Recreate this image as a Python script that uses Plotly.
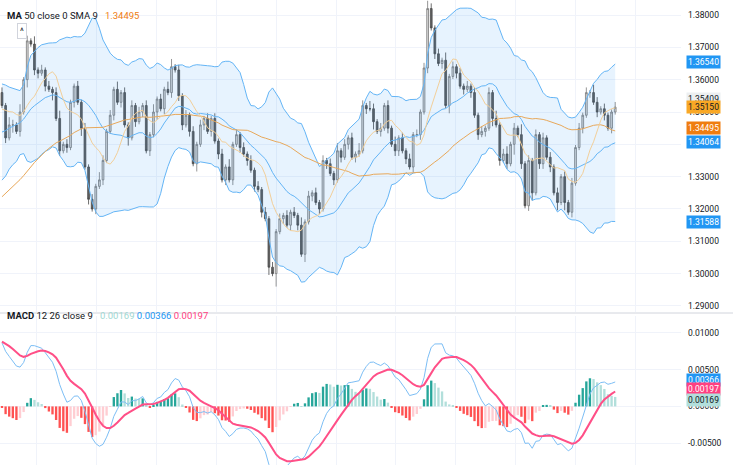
import plotly.graph_objects as go
import pandas as pd

# warm-up closes (hidden, before the visible window)
warmup_closes = [1.288,1.291,1.289,1.293,1.296,1.294,1.298,1.301,1.299,1.303,
                 1.305,1.302,1.306,1.309,1.307,1.311,1.313,1.310,1.314,1.317,
                 1.315,1.319,1.321,1.318,1.322,1.325,1.323,1.327,1.329,1.326,
                 1.330,1.333,1.331,1.335,1.337,1.334,1.338,1.341,1.339,1.343,
                 1.345,1.342,1.346,1.349,1.347,1.351,1.353,1.350,1.354,1.356]

closes = [1.352,1.342,1.346,1.346,1.344,1.350,1.360,1.372,1.371,1.363,
          1.362,1.363,1.358,1.357,1.356,1.348,1.338,1.340,1.339,1.353,
          1.358,1.353,1.345,1.333,1.323,1.320,1.327,1.329,1.335,1.344,
          1.349,1.357,1.353,1.356,1.346,1.342,1.352,1.347,1.350,1.352,
          1.338,1.343,1.350,1.354,1.351,1.357,1.356,1.364,1.363,1.355,
          1.346,1.349,1.344,1.334,1.340,1.346,1.348,1.344,1.348,1.341,
          1.337,1.329,1.333,1.329,1.340,1.343,1.339,1.337,1.335,1.332,
          1.327,1.326,1.319,1.317,1.302,1.300,1.313,1.317,1.318,1.315,
          1.319,1.318,1.315,1.306,1.316,1.324,1.325,1.322,1.320,1.335,
          1.334,1.331,1.329,1.338,1.336,1.340,1.342,1.336,1.337,1.338,
          1.352,1.351,1.351,1.347,1.344,1.345,1.352,1.345,1.340,1.338,
          1.342,1.338,1.3355,1.333,1.343,1.343,1.350,1.3636,1.382,1.376,
          1.368,1.365,1.366,1.352,1.361,1.364,1.362,1.358,1.357,1.358,
          1.356,1.349,1.343,1.344,1.345,1.356,1.348,1.346,1.335,1.337,
          1.334,1.340,1.345,1.343,1.334,1.321,1.335,1.325,1.343,1.334,
          1.342,1.336,1.333,1.325,1.322,1.330,1.322,1.319,1.328,1.339,
          1.345,1.349,1.356,1.356,1.353,1.350,1.351,1.349,1.345,1.350,
          1.3515]

# wick lengths in units of 0.0008
wick_up = [int(c) for c in
           "2132131213" "1212123121" "1212121321" "2131212121" "2131213312"
           "1212121212" "1213121212" "1212121212" "1213121212" "1213121213"
           "2132121213" "1212121232" "1213121212" "1212121312" "3121412121"
           "2121212121" "2121321211" "2"]
wick_dn = [int(c) for c in
           "1213121312" "2121312121" "2131212121" "1212131212" "1213121212"
           "2121312121" "2121212121" "2121315121" "2121312121" "2121212121"
           "1213121212" "2121212121" "2121312121" "2121213121" "2141212312"
           "2121313121" "1212121212" "1"]

price_ticks = [1.29, 1.30, 1.31, 1.32, 1.33, 1.34, 1.35, 1.36, 1.37, 1.38]
macd_ticks = [-0.005, 0.0, 0.005, 0.01]

price_tags = [(1.36540, "#2196f3", "white", 0), (1.35409, "#eceff1", "#131722", 0),
              (1.35150, "#f9a825", "#131722", 0), (1.34495, "#ef7d10", "white", 0),
              (1.34064, "#2196f3", "white", 0), (1.31588, "#2196f3", "white", 0)]
macd_tags = [(0.00366, "#2196f3", "white", 0), (0.00197, "#ff4081", "white", 3),
             (0.00169, "#b2dfdb", "#131722", -6)]

allc = warmup_closes + closes
npre = len(warmup_closes)
n = len(allc)
s = pd.Series(allc)
opens = [allc[0]] + allc[:-1]
highs = [max(o, c) for o, c in zip(opens, allc)]
lows = [min(o, c) for o, c in zip(opens, allc)]
for i in range(npre, n):
    highs[i] += 0.0008 * wick_up[i - npre]
    lows[i] -= 0.0008 * wick_dn[i - npre]

bb_mid = s.rolling(20, min_periods=1).mean()
bb_sd = s.rolling(20, min_periods=1).std(ddof=0)
bb_up = bb_mid + 2 * bb_sd
bb_lo = bb_mid - 2 * bb_sd
ma50 = s.rolling(50, min_periods=1).mean()
sma9 = s.rolling(9, min_periods=1).mean()
macd = s.ewm(span=12, adjust=False).mean() - s.ewm(span=26, adjust=False).mean()
sig = macd.ewm(span=9, adjust=False).mean()
hist = macd - sig
hcol = []
for i in range(n):
    prev = hist[i - 1] if i > 0 else 0
    if hist[i] >= 0:
        hcol.append("#26a69a" if hist[i] >= prev else "#b2dfdb")
    else:
        hcol.append("#ff5252" if hist[i] < prev else "#ffcdd2")

xs = list(range(n))
vis = slice(npre, n)
xv = xs[vis]
sp = 615 / (len(closes) - 1)
xr = [npre - 2 / sp, npre + 681 / sp]

blue = "#64b5f6"
fig = go.Figure()
fig.add_trace(go.Scatter(x=xv, y=bb_up[vis], line=dict(color=blue, width=1), yaxis="y"))
fig.add_trace(go.Scatter(x=xv, y=bb_lo[vis], line=dict(color=blue, width=1), fill="tonexty",
                         fillcolor="rgba(33,150,243,0.11)", yaxis="y"))
fig.add_trace(go.Scatter(x=xv, y=bb_mid[vis], line=dict(color=blue, width=1), yaxis="y"))
fig.add_trace(go.Scatter(x=xv, y=ma50[vis], line=dict(color="#e8a85a", width=1), yaxis="y"))
fig.add_trace(go.Scatter(x=xv, y=sma9[vis], line=dict(color="#f2cf9a", width=1), yaxis="y"))
fig.add_trace(go.Candlestick(x=xv, open=opens[vis], high=highs[vis], low=lows[vis], close=allc[vis],
                             increasing=dict(line=dict(color="#7a7a7a", width=0.8), fillcolor="#dcdcdc"),
                             decreasing=dict(line=dict(color="#4a4a4a", width=0.8), fillcolor="#606060"),
                             whiskerwidth=0, yaxis="y"))
fig.add_trace(go.Bar(x=xv, y=hist[vis], marker=dict(color=hcol[vis], line=dict(width=0)), yaxis="y2",
                     xaxis="x2"))
fig.add_trace(go.Scatter(x=xv, y=macd[vis], line=dict(color="#7cbef5", width=1), yaxis="y2", xaxis="x2"))
fig.add_trace(go.Scatter(x=xv, y=sig[vis], line=dict(color="#ff4f87", width=2), yaxis="y2", xaxis="x2"))

H = 465
grid = "#f0f3fa"
ax_common = dict(range=xr, showticklabels=False, showgrid=True, gridcolor=grid, dtick=60 / sp,
                 tick0=npre + 35 / sp, zeroline=False, rangeslider=dict(visible=False))
fig.update_layout(
    width=733, height=465, margin=dict(l=0, r=52, t=0, b=0),
    paper_bgcolor="white", plot_bgcolor="white", showlegend=False, bargap=0.35,
    font=dict(family="Roboto, Open Sans, sans-serif", color="#131722", size=9),
    xaxis=dict(domain=[0, 1], anchor="y", **ax_common),
    xaxis2=dict(domain=[0, 1], anchor="y2", **ax_common),
    yaxis=dict(domain=[1 - 312 / H, 1], range=[1.28814, 1.38464], side="right", tickvals=price_ticks,
               ticktext=[f"{v:.5f}" for v in price_ticks], gridcolor=grid, zeroline=False,
               ticks="", ticklabelstandoff=6, tickfont=dict(size=8.5)),
    yaxis2=dict(domain=[0, 1 - 316 / H], range=[-0.00797, 0.0123], side="right", tickvals=macd_ticks,
                ticktext=[f"{v:.5f}" for v in macd_ticks], gridcolor=grid, zeroline=False,
                ticks="", ticklabelstandoff=6, tickfont=dict(size=8.5)),
)
fig.add_shape(type="line", xref="paper", yref="paper", x0=0, x1=1.08, y0=1 - 313 / H, y1=1 - 313 / H,
              line=dict(color="#d1d4dc", width=1))
for v, bg, fc, ys in price_tags:
    fig.add_annotation(x=1.008, xref="paper", y=v, yref="y", text=f"{v:.5f}", showarrow=False, yshift=ys,
                       xanchor="left", bgcolor=bg, font=dict(color=fc, size=8.5), borderpad=1)
for v, bg, fc, ys in macd_tags:
    fig.add_annotation(x=1.008, xref="paper", y=v, yref="y2", text=f"{v:.5f}", showarrow=False, yshift=ys,
                       xanchor="left", bgcolor=bg, font=dict(color=fc, size=8.5), borderpad=1)
fig.add_annotation(x=5 / 681, xref="paper", y=1 - 8 / H, yref="paper", xanchor="left", showarrow=False,
                   text="<b>MA</b> 50 close 0 SMA 9   <span style='color:#ef7d10'>1.34495</span>",
                   font=dict(size=9.5, color="#131722"))
fig.add_annotation(x=17 / 681, xref="paper", y=1 - 23 / H, yref="paper", showarrow=False, text="^",
                   font=dict(size=9), bordercolor="#d1d4dc", borderwidth=1, borderpad=2, bgcolor="white")
fig.add_annotation(x=5 / 681, xref="paper", y=1 - 323 / H, yref="paper", xanchor="left", showarrow=False,
                   text="<b>MACD</b> 12 26 close 9   <span style='color:#9fd8d2'>0.00169</span> "
                        "<span style='color:#2196f3'>0.00366</span> <span style='color:#ff4081'>0.00197</span>",
                   font=dict(size=9.5, color="#131722"))
fig.write_html("out.html", config={"displayModeBar": False},
               post_script="document.body.style.margin='0';document.body.style.overflow='hidden';")
